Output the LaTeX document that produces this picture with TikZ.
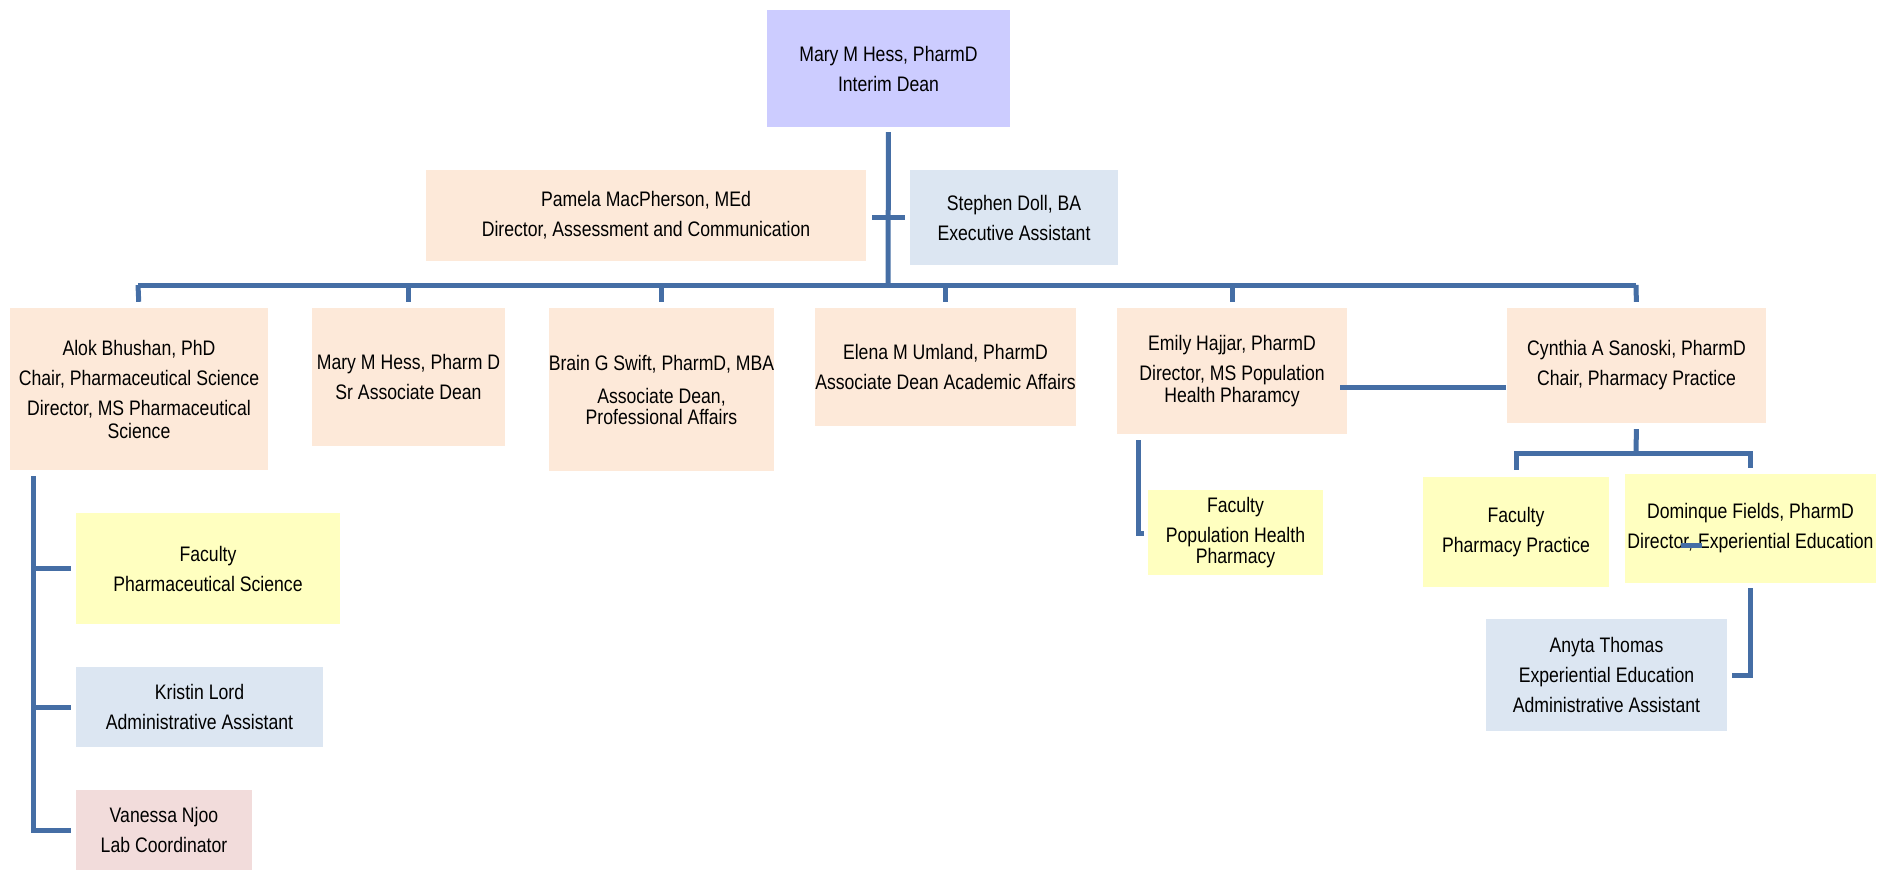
\documentclass[tikz,border=0pt]{standalone}
\usepackage{fontspec}
\setmainfont{Liberation Sans}[FakeStretch=0.84]
\definecolor{deanc}{HTML}{CCCCFF}
\definecolor{peach}{HTML}{FDE9D9}
\definecolor{bluegray}{HTML}{DCE6F2}
\definecolor{yell}{HTML}{FFFFC0}
\definecolor{pinkc}{HTML}{F2DCDB}
\definecolor{linec}{RGB}{69,110,165}
\begin{document}
\begin{tikzpicture}[x=1pt,y=-1pt,
  box/.style={rectangle, inner sep=0pt, align=center, font=\fontsize{21}{30}\selectfont},
  conn/.style={draw=linec, line width=5pt},
  wrap/.style={}]
\useasboundingbox (0,0) rectangle (1897,870);
% boxes
\node[box, fill=deanc, minimum width=243, minimum height=117] (dean) at (888.5,68.5) {Mary M Hess, PharmD\\Interim Dean};
\node[box, fill=peach, minimum width=440, minimum height=91] (pam) at (646,215.5) {Pamela MacPherson, MEd\\Director, Assessment and Communication};
\node[box, fill=bluegray, minimum width=208, minimum height=95] (steph) at (1014,217.5) {Stephen Doll, BA\\Executive Assistant};
\node[box, fill=peach, minimum width=258, minimum height=162] (alok) at (139,389) {Alok Bhushan, PhD\\Chair, Pharmaceutical Science\\Director, MS Pharmaceutical\\[-7pt]Science};
\node[box, fill=peach, minimum width=193, minimum height=138] (mary) at (408.5,377) {Mary M Hess, Pharm D\\Sr Associate Dean};
\node[box, fill=peach, minimum width=225, minimum height=163] (brain) at (661.5,389.5) {Brain G Swift, PharmD, MBA\\[3pt]Associate Dean,\\[-9pt]Professional Affairs};
\node[box, fill=peach, minimum width=255, minimum height=118] (elena) at (945.5,367) {Elena M Umland, PharmD\\Associate Dean Academic Affairs};
\node[box, fill=peach, minimum width=230, minimum height=126] (emily) at (1232,371) {Emily Hajjar, PharmD\\Director, MS Population\\[-8pt]Health Pharamcy};
\node[box, fill=peach, minimum width=259, minimum height=115] (cyn) at (1636.5,365.5) {Cynthia A Sanoski, PharmD\\Chair, Pharmacy Practice};
\node[box, fill=yell, minimum width=264, minimum height=111] (facps) at (208,568.5) {Faculty\\Pharmaceutical Science};
\node[box, fill=bluegray, minimum width=247, minimum height=80] (kristin) at (199.5,707) {Kristin Lord\\Administrative Assistant};
\node[box, fill=pinkc, minimum width=176, minimum height=80] (vanessa) at (164,830) {Vanessa Njoo\\Lab Coordinator};
\node[box, fill=yell, minimum width=175, minimum height=85] (facph) at (1235.5,532.5) {Faculty\\Population Health\\[-9pt]Pharmacy};
\node[box, fill=yell, minimum width=186, minimum height=110] (facpp) at (1516,532) {Faculty\\Pharmacy Practice};
\node[box, fill=yell, minimum width=251, minimum height=109] (dom) at (1750.5,528.5) {Dominque Fields, PharmD\\Director, Experiential Education};
\node[box, fill=bluegray, minimum width=241, minimum height=112] (anyta) at (1606.5,675) {Anyta Thomas\\Experiential Education\\Administrative Assistant};
% helper coordinates
\coordinate (bus) at (888,285);
\coordinate (busL) at (138,285);
\coordinate (busR) at (1636,285);
\coordinate (asst) at (888,217);
\coordinate (ec) at (1340,387);
\coordinate (cb) at (1636,453);
\coordinate (eh) at (1138,533);
\coordinate (ax) at (33,476);
\coordinate (s1) at (1681,545);
\coordinate (s2) at (1702,545);
% connectors
\draw[conn, shorten <=5pt] (dean.south) -- (bus);
\draw[conn] (busL) -- (busR);
\draw[conn, shorten >=6pt] (busL) -- (alok.north);
\draw[conn, shorten >=6pt] (bus -| mary.north) -- (mary.north);
\draw[conn, shorten >=6pt] (bus -| brain.north) -- (brain.north);
\draw[conn, shorten >=6pt] (bus -| elena.north) -- (elena.north);
\draw[conn, shorten >=6pt] (bus -| emily.north) -- (emily.north);
\draw[conn, shorten >=6pt] (busR) -- (cyn.north);
\draw[conn, shorten <=6pt, shorten >=5pt] (pam.east |- asst) -- (steph.west |- asst);
\draw[conn, shorten <=-7pt, shorten >=1pt] (emily.east |- ec) -- (cyn.west |- ec);
\draw[conn, shorten <=6pt] (cyn.south) -- (cb);
\draw[conn, shorten >=7pt] (cb) -- (cb -| facpp.north) -- (facpp.north);
\draw[conn, shorten >=6pt] (cb) -- (cb -| dom.north) -- (dom.north);
\draw[conn, shorten <=6pt, shorten >=4pt] (emily.south -| eh) -- (eh) -- (facph.west |- eh);
\draw[conn, shorten <=5pt, shorten >=5pt] (dom.south) -- (dom.south |- anyta.east) -- (anyta.east);
\draw[conn] (s1) -- (s2);
\draw[conn, shorten <=6pt] (alok.south -| ax) -- (ax |- vanessa.west) -- ([xshift=-5pt]vanessa.west);
\draw[conn] (ax |- facps.west) -- ([xshift=-5pt]facps.west);
\draw[conn] (ax |- kristin.west) -- ([xshift=-5pt]kristin.west);
\end{tikzpicture}
\end{document}
